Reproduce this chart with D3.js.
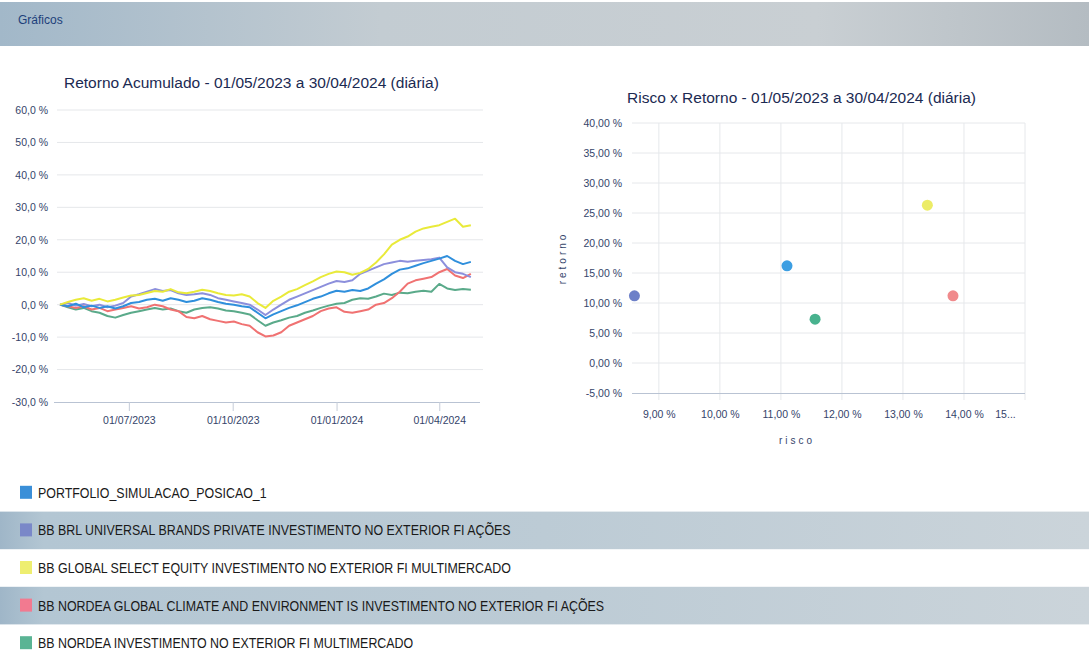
<!DOCTYPE html>
<html><head><meta charset="utf-8">
<script src="https://cdn.jsdelivr.net/npm/d3@7"></script>
<style>
body{margin:0;background:#fff;}
svg{display:block;font-family:"Liberation Sans",Arial,sans-serif;}
</style>
</head><body>
<svg id="c" width="1089" height="654"></svg>
<script>
// ---------- DATA ----------
const seriesNames = [
  "PORTFOLIO_SIMULACAO_POSICAO_1",
  "BB BRL UNIVERSAL BRANDS PRIVATE INVESTIMENTO NO EXTERIOR FI AÇÕES",
  "BB GLOBAL SELECT EQUITY INVESTIMENTO NO EXTERIOR FI MULTIMERCADO",
  "BB NORDEA GLOBAL CLIMATE AND ENVIRONMENT IS INVESTIMENTO NO EXTERIOR FI AÇÕES",
  "BB NORDEA INVESTIMENTO NO EXTERIOR FI MULTIMERCADO"
];
const lineColors   = ["#2f8fdc", "#8c8fdc", "#e9ea3a", "#f07272", "#5aaa8a"];
const dotColors    = ["#3c9ee2", "#6d80c8", "#ecec66", "#f08a8c", "#48b28e"];
const legendColors = ["#3a8fd8", "#7a88c8", "#eeee70", "#f27a90", "#5ab494"];

const dates = [
  "2023-05-01","2023-05-08","2023-05-15","2023-05-22","2023-05-29",
  "2023-06-05","2023-06-12","2023-06-19","2023-06-26",
  "2023-07-03","2023-07-10","2023-07-17","2023-07-24","2023-07-31",
  "2023-08-07","2023-08-14","2023-08-21","2023-08-28",
  "2023-09-04","2023-09-11","2023-09-18","2023-09-25",
  "2023-10-02","2023-10-09","2023-10-16","2023-10-23","2023-10-30",
  "2023-11-06","2023-11-13","2023-11-20","2023-11-27",
  "2023-12-04","2023-12-11","2023-12-18","2023-12-25",
  "2024-01-01","2024-01-08","2024-01-15","2024-01-22","2024-01-29",
  "2024-02-05","2024-02-12","2024-02-19","2024-02-26",
  "2024-03-04","2024-03-11","2024-03-18","2024-03-25",
  "2024-04-01","2024-04-08","2024-04-15","2024-04-22","2024-04-29"
];

const portfolio = [0,-0.5,0.3,-0.8,-0.3,-1.0,-0.5,-1.2,-0.5,0.5,0.8,1.5,1.8,1.2,2.0,1.5,0.8,1.2,2.0,1.5,0.8,0.3,0.0,-0.5,-0.8,-2.5,-4.2,-3.0,-2.0,-1.0,-0.2,0.8,1.8,2.5,3.5,4.3,4.0,4.5,4.2,5.0,6.5,7.8,9.5,10.8,11.2,12.0,12.8,13.5,14.2,15.0,13.5,12.5,13.2];
const brlUniversal = [0,0.5,-0.3,0.2,-0.5,0.0,-0.8,-0.3,0.5,2.5,3.2,4.0,4.8,4.2,4.5,3.5,3.0,3.2,3.5,3.0,2.0,1.5,1.0,0.5,0.0,-1.5,-3.2,-1.5,0.0,1.5,2.5,3.5,4.5,5.5,6.5,7.3,7.0,7.5,9.5,10.5,11.5,12.5,13.0,13.5,13.2,13.5,13.8,14.0,14.5,11.5,10.0,9.5,8.5];
const globalSelect = [0,0.8,1.5,2.0,1.2,1.8,1.0,1.5,2.2,2.8,3.0,3.6,4.2,4.0,4.8,3.8,3.5,4.0,4.6,4.2,3.5,3.0,2.8,3.2,2.5,0.5,-1.0,1.2,2.5,4.0,4.8,6.0,7.2,8.5,9.5,10.2,10.0,9.2,9.8,11.0,13.0,15.5,18.5,20.0,21.0,22.5,23.5,24.0,24.5,25.5,26.5,24.0,24.5];
const nordeaClimate = [0,-0.5,-1.0,-0.5,-1.5,-1.0,-2.0,-1.5,-1.0,-0.5,-1.2,-0.8,0.0,-0.5,-1.5,-2.0,-3.8,-4.2,-3.5,-4.5,-5.0,-5.5,-5.2,-6.0,-6.5,-8.5,-9.8,-9.5,-8.5,-6.5,-5.5,-4.5,-3.5,-2.0,-1.2,-0.8,-2.2,-2.5,-2.0,-1.5,0.0,0.5,2.0,4.0,6.5,7.5,8.0,8.5,10.0,11.0,9.0,8.2,9.5];
const nordeaMulti = [0,-0.8,-1.5,-1.0,-2.0,-2.5,-3.5,-4.0,-3.2,-2.5,-2.0,-1.5,-1.0,-1.5,-1.2,-2.0,-2.5,-1.5,-1.0,-0.8,-1.2,-1.8,-2.0,-2.5,-3.0,-4.8,-6.5,-5.5,-4.8,-4.0,-3.5,-2.5,-1.8,-1.0,-0.3,0.3,0.5,1.5,2.0,1.8,2.5,3.4,3.0,3.7,3.5,4.0,4.3,4.0,6.4,5.0,4.5,4.8,4.6];

const lineTicksY = [-30,-20,-10,0,10,20,30,40,50,60];
const lineTicksX = ["2023-07-01","2023-10-01","2024-01-01","2024-04-01"];

const riskValues   = [11.1, 8.6, 13.4, 13.82, 11.56];
const returnValues = [16.2, 11.2, 26.3, 11.2, 7.3];
const scatterTicksY = [-5,0,5,10,15,20,25,30,35,40];
const scatterTicksX = [9,10,11,12,13,14,15];

// ---------- SETUP ----------
const svg = d3.select("#c");
const loc = d3.formatLocale({decimal:",", thousands:".", grouping:[3], currency:["R$",""], minus:"-"});
const f1 = loc.format(".1f"), f2 = loc.format(".2f");
const parse = d3.timeParse("%Y-%m-%d");
const defs = svg.append("defs");
const tickFont = "'Liberation Sans',Arial,sans-serif";
const tickCol = "#34446a";

function grad(id, stops){
  const g = defs.append("linearGradient").attr("id", id).attr("x1","0").attr("x2","1").attr("y1","0").attr("y2","0");
  stops.forEach(s => g.append("stop").attr("offset", s[0]).attr("stop-color", s[1]));
}
grad("hdr", [[0,"#a2b8c9"],[0.35,"#c3ccd2"],[0.75,"#c9cfd3"],[1,"#b4bcc2"]]);
grad("band", [[0,"#9fb6c8"],[0.04,"#b3c6d3"],[0.5,"#bccbd5"],[1,"#cbd4da"]]);

// header band
svg.append("rect").attr("x",0).attr("y",2).attr("width",1089).attr("height",44).attr("fill","url(#hdr)");
svg.append("text").attr("x",18).attr("y",24).attr("font-size",12).attr("fill","#1d3f7a").text("Gráficos");

// ---------- LINE CHART ----------
const x = d3.scaleTime().domain([parse("2023-05-01"), parse("2024-04-30")]).range([60, 472]);
const y = d3.scaleLinear().domain([-30, 60]).range([402, 110]);

svg.append("text").attr("x",64).attr("y",88).attr("font-size",15.5).attr("fill","#1b2a52")
  .text("Retorno Acumulado - 01/05/2023 a 30/04/2024 (diária)");

const gl = svg.append("g");
gl.selectAll("line.grid").data(lineTicksY.filter(d => d !== -30)).join("line")
  .attr("x1",57).attr("x2",483).attr("y1",d=>y(d)).attr("y2",d=>y(d))
  .attr("stroke","#e5e7ea").attr("stroke-width",1);

const yAx = svg.append("g").attr("transform","translate(56,0)")
  .call(d3.axisLeft(y).tickValues(lineTicksY).tickSize(0).tickPadding(8).tickFormat(d => f1(d) + " %"));
yAx.select(".domain").remove();
yAx.selectAll("text").attr("font-size",10.5).attr("fill",tickCol).attr("font-family",tickFont);

const xAx = svg.append("g").attr("transform",`translate(0,${y(-30)})`)
  .call(d3.axisBottom(x).tickValues(lineTicksX.map(parse)).tickSize(9).tickPadding(6).tickFormat(d3.timeFormat("%d/%m/%Y")));
xAx.select(".domain").attr("d","M54,0.5H480").attr("stroke","#b9c3d3");
xAx.selectAll(".tick line").attr("stroke","#c5ccd8");
xAx.selectAll("text").attr("font-size",10.5).attr("fill",tickCol).attr("font-family",tickFont);

const seriesData = [nordeaMulti, nordeaClimate, brlUniversal, portfolio, globalSelect];
const seriesIdx  = [4, 3, 1, 0, 2];
const line = d3.line().x((d,i) => x(parse(dates[i]))).y(d => y(d)).curve(d3.curveLinear);
svg.append("g").selectAll("path").data(seriesData).join("path")
  .attr("d", d => line(d)).attr("fill","none")
  .attr("stroke",(d,i) => lineColors[seriesIdx[i]]).attr("stroke-width",2)
  .attr("stroke-linejoin","round");

// ---------- SCATTER ----------
const sx = d3.scaleLinear().domain([8.56, 15.0]).range([632, 1025]);
const sy = d3.scaleLinear().domain([-5, 40]).range([393, 123]);

svg.append("text").attr("x",627).attr("y",103).attr("font-size",15.5).attr("fill","#1b2a52")
  .text("Risco x Retorno - 01/05/2023 a 30/04/2024 (diária)");

svg.append("g").selectAll("line").data(scatterTicksY.filter(d => d !== -5)).join("line")
  .attr("x1",632).attr("x2",1025).attr("y1",d=>sy(d)).attr("y2",d=>sy(d))
  .attr("stroke","#e6e8eb");
svg.append("g").selectAll("line").data(scatterTicksX).join("line")
  .attr("x1",d=>sx(d)).attr("x2",d=>sx(d)).attr("y1",sy(40)).attr("y2",sy(-5)+7)
  .attr("stroke","#e6e8eb");

const syAx = svg.append("g").attr("transform","translate(630,0)")
  .call(d3.axisLeft(sy).tickValues(scatterTicksY).tickSize(0).tickPadding(8).tickFormat(d => f2(d) + " %"));
syAx.select(".domain").remove();
syAx.selectAll("text").attr("font-size",10.5).attr("fill",tickCol).attr("font-family",tickFont);

const sxAx = svg.append("g").attr("transform",`translate(0,${sy(-5)})`)
  .call(d3.axisBottom(sx).tickValues(scatterTicksX).tickSize(0).tickPadding(18)
    .tickFormat(d => d === 15 ? "15..." : f2(d) + " %"));
sxAx.select(".domain").attr("d","M632,0.5H1025").attr("stroke","#b9c3d3");
sxAx.selectAll("text").attr("font-size",10.5).attr("fill",tickCol).attr("font-family",tickFont);
sxAx.selectAll(".tick").filter(d => d === 15).select("text").attr("dx",-20);

svg.append("text").attr("x",797).attr("y",444).attr("text-anchor","middle")
  .attr("font-size",10).attr("letter-spacing",3).attr("fill",tickCol).text("risco");
svg.append("text").attr("transform","translate(566,258) rotate(-90)").attr("text-anchor","middle")
  .attr("font-size",10).attr("letter-spacing",3).attr("fill",tickCol).text("retorno");

svg.append("g").selectAll("circle").data(riskValues).join("circle")
  .attr("cx",d=>sx(d)).attr("cy",(d,i)=>sy(returnValues[i])).attr("r",5.5)
  .attr("fill",(d,i)=>dotColors[i]);

// ---------- LEGEND ----------
const ly = d3.scaleBand().domain(seriesNames).range([474, 662]);
const lg = svg.append("g").selectAll("g").data(seriesNames).join("g")
  .attr("transform", d => `translate(0,${ly(d)})`);
lg.filter((d,i) => i % 2 === 1).append("rect")
  .attr("x",0).attr("y",0).attr("width",1089).attr("height",ly.bandwidth()).attr("fill","url(#band)");
lg.append("rect").attr("x",20).attr("y",ly.bandwidth()/2 - 7).attr("width",12).attr("height",13)
  .attr("fill",(d,i)=>legendColors[i]);
lg.append("text").attr("transform",`translate(38,${ly.bandwidth()/2 + 5}) scale(0.887,1)`)
  .attr("font-size",14).attr("fill","#1a1a1a").text(d => d);
</script>
</body></html>
